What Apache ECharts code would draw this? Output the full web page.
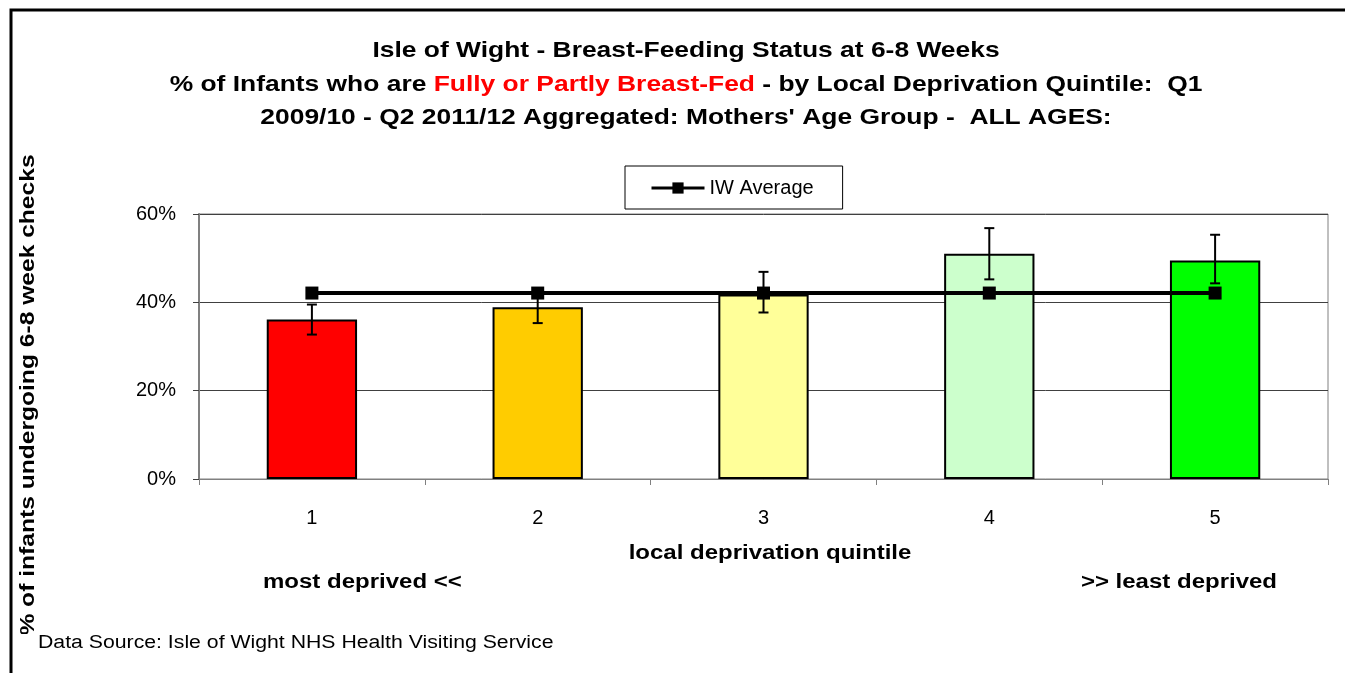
<!DOCTYPE html>
<html><head><meta charset="utf-8">
<script src="https://cdn.jsdelivr.net/npm/echarts@6/dist/echarts.min.js"></script>
<style>html,body{margin:0;padding:0;background:#fff}#c{width:1345px;height:673px}</style>
</head><body><div id="c"></div>
<script>
const categories = ['1', '2', '3', '4', '5'];
const barValues = [36.1, 38.9, 41.8, 51.0, 49.5];
const errCenter = [36.1, 38.9, 42.3, 51.0, 49.8];
const errHalf = [3.4, 3.6, 4.6, 5.8, 5.5];
const average = [42.1, 42.1, 42.1, 42.1, 42.1];
const barColors = ['#FF0000', '#FFCC00', '#FFFF99', '#CCFFCC', '#00FF00'];
const yTicks = [0, 20, 40, 60];
const titleLines = [
  'Isle of Wight - Breast-Feeding Status at 6-8 Weeks',
  ['% of Infants who are ', 'Fully or Partly Breast-Fed', ' - by Local Deprivation Quintile:  Q1'],
  '2009/10 - Q2 2011/12 Aggregated: Mothers\' Age Group -  ALL AGES:'
];

const FF = '"Liberation Sans", Arial, sans-serif';
const SX = 1.2;
const chart = echarts.init(document.getElementById('c'));
const errData = categories.map((c, i) => [i, errCenter[i] - errHalf[i], errCenter[i] + errHalf[i]]);

function txt(x, y, text, size, bold, align, extra) {
  return Object.assign({
    type: 'text', z: 50, x: x, y: y, scaleX: SX,
    style: { text: text, fontFamily: FF, fontWeight: bold ? 'bold' : 'normal', fontSize: size, fill: '#000', align: align, verticalAlign: 'middle' }
  }, extra || {});
}

chart.setOption({
  animation: false,
  textStyle: { fontFamily: FF },
  legend: {
    left: 625, top: 166,
    data: ['IW Average'],
    backgroundColor: '#fff',
    borderColor: '#000', borderWidth: 1,
    padding: [12, 29, 11, 25],
    itemWidth: 53, itemHeight: 14,
    lineStyle: { width: 3 },
    textStyle: { fontFamily: FF, fontSize: 20, color: '#000' }
  },
  grid: { left: 199, right: 17, top: 214, bottom: 194, show: true, borderColor: '#808080', borderWidth: 1 },
  xAxis: {
    type: 'category', data: categories, boundaryGap: true,
    axisLine: { lineStyle: { color: '#808080', width: 1 } },
    axisTick: { show: true, alignWithLabel: false, length: 6, lineStyle: { color: '#808080' } },
    axisLabel: { fontFamily: FF, fontSize: 20, color: '#000', margin: 29 }
  },
  yAxis: {
    type: 'value', min: 0, max: 60, interval: 20,
    axisLine: { show: true, lineStyle: { color: '#808080', width: 2 } },
    axisTick: { show: true, length: 6, lineStyle: { color: '#404040' } },
    axisLabel: { fontFamily: FF, fontSize: 20, color: '#000', margin: 23, formatter: v => yTicks.includes(v) ? v + '%' : '' },
    splitLine: { lineStyle: { color: '#404040', width: 1 } }
  },
  series: [
    {
      type: 'bar', name: 'Quintile', barWidth: '40%', z: 2,
      data: barValues.map((v, i) => ({ value: v, itemStyle: { color: barColors[i] } })),
      itemStyle: { borderColor: '#000', borderWidth: 2 }
    },
    {
      type: 'line', name: 'IW Average', data: average, z: 3,
      symbol: 'rect', symbolSize: 13,
      lineStyle: { color: '#000', width: 4 },
      itemStyle: { color: '#000' }
    },
    {
      type: 'custom', name: 'err', z: 4,
      data: errData,
      renderItem: function (params, api) {
        const x = api.value(0);
        const lo = api.coord([x, api.value(1)]);
        const hi = api.coord([x, api.value(2)]);
        const cap = 5;
        const st = { stroke: '#000', lineWidth: 2 };
        return {
          type: 'group',
          children: [
            { type: 'line', shape: { x1: lo[0], y1: lo[1], x2: hi[0], y2: hi[1] }, style: st },
            { type: 'line', shape: { x1: lo[0] - cap, y1: lo[1], x2: lo[0] + cap, y2: lo[1] }, style: st },
            { type: 'line', shape: { x1: hi[0] - cap, y1: hi[1], x2: hi[0] + cap, y2: hi[1] }, style: st }
          ]
        };
      }
    }
  ],
  graphic: [
    { type: 'rect', z: 100, shape: { x: 11, y: 10, width: 1400, height: 700 }, style: { fill: null, stroke: '#000', lineWidth: 3 } },
    txt(686, 51, titleLines[0], 22, true, 'center'),
    {
      type: 'text', z: 50, x: 686, y: 85, scaleX: SX,
      style: {
        text: '{b|' + titleLines[1][0] + '}{r|' + titleLines[1][1] + '}{b|' + titleLines[1][2] + '}',
        align: 'center', verticalAlign: 'middle',
        rich: {
          b: { fontFamily: FF, fontWeight: 'bold', fontSize: 22, fill: '#000' },
          r: { fontFamily: FF, fontWeight: 'bold', fontSize: 22, fill: '#FF0000' }
        }
      }
    },
    txt(686, 118, titleLines[2], 22, true, 'center'),
    txt(28, 395, '% of infants undergoing 6-8 week checks', 20.5, true, 'center', { rotation: Math.PI / 2 }),
    { type: 'rect', z: 60, shape: { x: 20, y: 634, width: 600, height: 36 }, style: { fill: '#fff' } },
    txt(38, 643, 'Data Source: Isle of Wight NHS Health Visiting Service', 18, false, 'left', { z: 70, scaleX: 1.18 }),
    txt(770, 553, 'local deprivation quintile', 20, true, 'center'),
    txt(263, 582, 'most deprived <<', 20, true, 'left'),
    txt(1277, 582, '>> least deprived', 20, true, 'right')
  ]
});
</script></body></html>
